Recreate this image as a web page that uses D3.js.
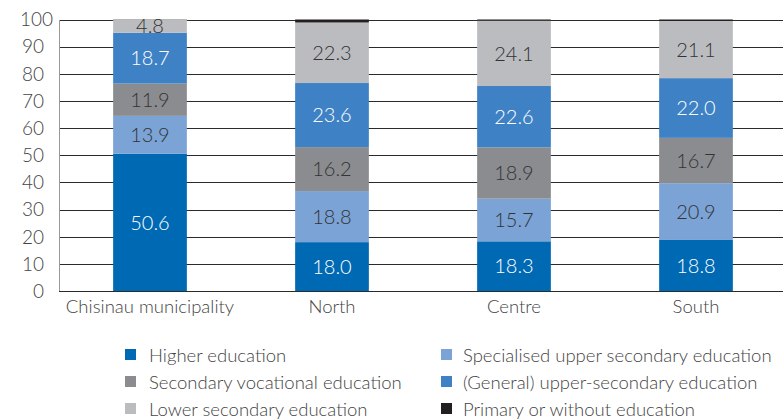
<!DOCTYPE html>
<html>
<head>
<meta charset="utf-8">
<script src="https://cdn.jsdelivr.net/npm/d3@7"></script>
<style>
  body { margin: 0; background: #fff; }
  svg { display: block; font-family: Lato, "Open Sans", sans-serif; font-weight: 300; }
</style>
</head>
<body>
<div class="chart"></div>
<script>
// chart size
const w = 783;
const h = 420;

// data
const regions = ["Chisinau municipality", "North", "Centre", "South"];
const seriesNames = ["Higher education", "Specialised upper secondary education",
                     "Secondary vocational education", "(General) upper-secondary education",
                     "Lower secondary education", "Primary or without education"];
const higher      = [50.6, 18.0, 18.3, 18.8];
const specialised = [13.9, 18.8, 15.7, 20.9];
const vocational  = [11.9, 16.2, 18.9, 16.7];
const general     = [18.7, 23.6, 22.6, 22.0];
const lower       = [4.8, 22.3, 24.1, 21.1];
const primary     = [0.1, 1.1, 0.4, 0.5];
const yTicks = [0, 10, 20, 30, 40, 50, 60, 70, 80, 90, 100];

const colors = ["#0069b4", "#7ba3d6", "#8b8c8f", "#3e82c5", "#bbbcc0", "#231f20"];
const labelColors = ["#fff", "#333", "#333", "#fff", "#333", "#fff"];

const allSeries = [higher, specialised, vocational, general, lower, primary];
const table = regions.map((r, i) => {
  const row = { region: r };
  seriesNames.forEach((s, j) => row[s] = allSeries[j][i]);
  return row;
});
const stacked = d3.stack().keys(seriesNames)(table);

const svg = d3.select(".chart").append("svg")
  .attr("width", w)
  .attr("height", h);

const x = d3.scaleBand()
  .domain(regions)
  .range([59, 787])
  .paddingInner(0.595)
  .paddingOuter(0.2975);

const y = d3.scaleLinear()
  .domain([0, 100])
  .range([291, 19.5]);

// gridlines
svg.append("g")
  .selectAll("line")
  .data(yTicks)
  .enter()
  .append("line")
  .attr("x1", 59)
  .attr("x2", w)
  .attr("y1", d => Math.round(y(d)) + 0.5)
  .attr("y2", d => Math.round(y(d)) + 0.5)
  .attr("stroke", "#2b2b2b")
  .attr("stroke-width", 1);

// left axis line
svg.append("line")
  .attr("x1", 59.5).attr("x2", 59.5)
  .attr("y1", Math.round(y(100)))
  .attr("y2", Math.round(y(0)) + 1)
  .attr("stroke", "#999");

// y tick labels
svg.append("g")
  .selectAll("text")
  .data(yTicks)
  .enter()
  .append("text")
  .attr("x", d => d === 100 ? 53 : 44)
  .attr("y", d => y(d))
  .attr("dy", "0.36em")
  .attr("text-anchor", "end")
  .style("font-size", "19px")
  .style("fill", "#444")
  .text(d => d);

// bars
const layers = svg.append("g")
  .selectAll("g")
  .data(stacked)
  .enter()
  .append("g")
  .attr("fill", (d, i) => colors[i]);

layers.selectAll("rect")
  .data(d => d)
  .enter()
  .append("rect")
  .attr("x", d => x(d.data.region))
  .attr("width", x.bandwidth())
  .attr("y", d => y(d[1]))
  .attr("height", d => y(d[0]) - y(d[1]));

// bottom axis line over bars
svg.append("line")
  .attr("x1", 59).attr("x2", w)
  .attr("y1", Math.round(y(0)) + 0.5)
  .attr("y2", Math.round(y(0)) + 0.5)
  .attr("stroke", "#2b2b2b");

// value labels (skip primary)
stacked.slice(0, 5).forEach((layer, i) => {
  svg.append("g")
    .selectAll("text")
    .data(layer)
    .enter()
    .append("text")
    .attr("x", d => x(d.data.region) + x.bandwidth() / 2)
    .attr("y", d => y((d[0] + d[1]) / 2))
    .attr("dy", "0.36em")
    .attr("text-anchor", "middle")
    .style("font-size", "20px")
    .style("fill", labelColors[i])
    .text(d => (d[1] - d[0]).toFixed(1));
});

// category labels
svg.append("g")
  .selectAll("text")
  .data(regions)
  .enter()
  .append("text")
  .attr("x", d => x(d) + x.bandwidth() / 2)
  .attr("y", 306)
  .attr("dy", "0.36em")
  .attr("text-anchor", "middle")
  .style("font-size", "18.5px")
  .style("fill", "#444")
  .text(d => d);

// legend, two columns
const legendPos = [[125, 355], [441, 355], [125, 382], [441, 382], [125, 409], [441, 409]];
const legend = svg.append("g")
  .selectAll("g")
  .data(seriesNames)
  .enter()
  .append("g")
  .attr("transform", (d, i) => `translate(${legendPos[i][0]},${legendPos[i][1]})`);

legend.append("rect")
  .attr("x", 0)
  .attr("y", -6)
  .attr("width", 11)
  .attr("height", 11)
  .attr("fill", (d, i) => colors[i]);

legend.append("text")
  .attr("x", (d, i) => i % 2 === 0 ? 24 : 22)
  .attr("y", 0)
  .attr("dy", "0.36em")
  .style("font-size", "18.5px")
  .style("fill", "#444")
  .text(d => d);
</script>
</body>
</html>
